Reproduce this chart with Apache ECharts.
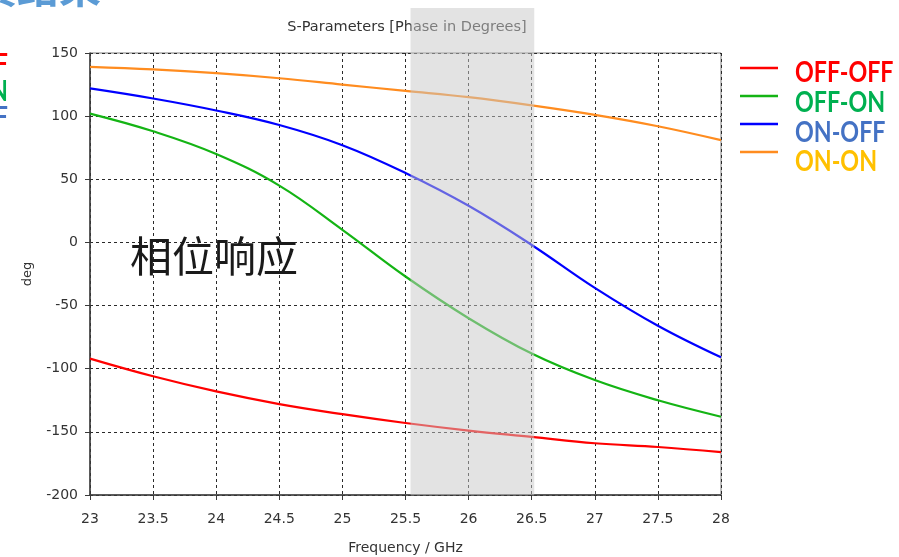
<!DOCTYPE html>
<html>
<head>
<meta charset="utf-8">
<script src="https://cdn.jsdelivr.net/npm/echarts@6/dist/echarts.min.js"></script>
<style>
  html, body { margin: 0; padding: 0; background: #ffffff; }
  #chart { width: 899px; height: 557px; }
</style>
</head>
<body>
<div id="chart"></div>
<script>
// Frequency sweep (GHz) and phase of each switch state (degrees)
const freqs = [23, 23.5, 24, 24.5, 25, 25.5, 26, 26.5, 27, 27.5, 28];
const offOff = [-92, -106, -118, -128, -136, -143, -149, -154, -159, -162, -166];
const offOn  = [102, 88, 70, 45, 10, -27, -60, -88, -109, -125, -138];
const onOff  = [122, 114, 104.5, 93, 77, 55, 29, -2, -36, -66, -91];
const onOn   = [139, 137, 134, 130, 125, 120, 115, 108.5, 101, 92, 81];

const seriesNames = ['OFF-OFF', 'OFF-ON', 'ON-OFF', 'ON-ON'];
const seriesValues = [offOff, offOn, onOff, onOn];
const lineColors = ['#ff0000', '#14b414', '#0000ff', '#ff8c1f'];
const labelColors = ['#ff0000', '#00b050', '#4472c4', '#ffc000'];

// Highlighted frequency band (GHz)
const band = [25.54, 26.52];

const chart = echarts.init(document.getElementById('chart'), null, { renderer: 'canvas' });

const tickFont = { fontFamily: 'DejaVu Sans', fontSize: 14, color: '#333333' };
const legendFont = "'Lato', sans-serif";

function pairs(values) {
  return freqs.map((f, i) => [f, values[i]]);
}

chart.setOption({
  animation: false,
  backgroundColor: '#ffffff',
  title: {
    text: 'S-Parameters [Phase in Degrees]',
    left: 402,
    top: 15,
    textAlign: 'center',
    textStyle: { fontFamily: 'DejaVu Sans', fontSize: 14.5, fontWeight: 'normal', color: '#333333' }
  },
  grid: {
    left: 90, right: 178, top: 53, bottom: 62,
    outerBoundsMode: 'none',
    containLabel: false,
    show: true, borderColor: '#7a7a7a', borderWidth: 1, backgroundColor: 'transparent'
  },
  xAxis: {
    type: 'value',
    min: 23, max: 28, interval: 0.5,
    name: 'Frequency / GHz',
    nameLocation: 'middle',
    nameGap: 46,
    nameTextStyle: tickFont,
    axisLine: { show: true, onZero: false, lineStyle: { color: '#3a3a3a', width: 1.5 } },
    axisTick: { show: true, length: 5, lineStyle: { color: '#3a3a3a' } },
    axisLabel: Object.assign({ margin: 17 }, tickFont),
    splitLine: { show: true, lineStyle: { color: '#2a2a2a', type: [3, 3], width: 1 } }
  },
  yAxis: {
    type: 'value',
    min: -200, max: 150, interval: 50,
    name: 'deg',
    nameLocation: 'middle',
    nameRotate: 90,
    nameGap: 56,
    nameTextStyle: { fontFamily: 'DejaVu Sans', fontSize: 13, color: '#333333' },
    axisLine: { show: true, onZero: false, lineStyle: { color: '#3a3a3a', width: 1.5 } },
    axisTick: { show: true, length: 5, lineStyle: { color: '#3a3a3a' } },
    axisLabel: Object.assign({ margin: 12 }, tickFont),
    splitLine: { show: true, lineStyle: { color: '#2a2a2a', type: [3, 3], width: 1 } }
  },
  series: seriesNames.map((name, i) => ({
    name: name,
    type: 'line',
    data: pairs(seriesValues[i]),
    smooth: 0.4,
    showSymbol: false,
    lineStyle: { color: lineColors[i], width: 2.2 },
    itemStyle: { color: lineColors[i] },
    z: 3
  }))
});

// Translucent band over the selected range, plus the annotation texts
const x0 = chart.convertToPixel({ xAxisIndex: 0 }, band[0]);
const x1 = chart.convertToPixel({ xAxisIndex: 0 }, band[1]);
const yBottom = chart.convertToPixel({ yAxisIndex: 0 }, -200);

const graphics = [
  {
    type: 'rect',
    shape: { x: x0, y: 8, width: x1 - x0, height: yBottom - 8 },
    style: { fill: 'rgba(200,200,200,0.5)' },
    silent: true,
    z: 100
  },
  {
    type: 'text',
    left: 130, top: 235,
    style: { text: '相位响应', font: "normal 42px 'Noto Sans CJK SC'", fill: '#1a1a1a' },
    z: 50
  },
  {
    type: 'text',
    style: { x: 101, y: 8, text: '仿真结果', align: 'right', verticalAlign: 'bottom',
             font: "bold 42px 'Noto Sans CJK SC'", fill: '#5b9bd5' },
    z: 50
  }
];

// Legend: coloured line swatch and bold, slightly narrowed label for each state
seriesNames.forEach((name, i) => {
  const lineY = 68 + i * 28;
  const textY = 73 + i * 29.8;
  graphics.push({
    type: 'line',
    shape: { x1: 740, y1: lineY, x2: 778, y2: lineY },
    style: { stroke: lineColors[i], lineWidth: 2.5 },
    z: 50
  });
  graphics.push({
    type: 'text',
    x: 795, y: textY, scaleX: 0.83,
    style: { x: 0, y: 0, text: name, align: 'left', verticalAlign: 'middle',
             font: 'bold 28px ' + legendFont, fill: labelColors[i] },
    z: 50
  });
});

// Labels of the neighbouring slide panel, clipped at the left edge
['OFF-OFF', 'OFF-ON', 'ON-OFF'].forEach((name, i) => {
  graphics.push({
    type: 'text',
    x: 8, y: 65 + i * 26.5, scaleX: 0.83,
    style: { x: 0, y: 0, text: name, align: 'right', verticalAlign: 'middle',
             font: 'bold 28px ' + legendFont, fill: labelColors[i] },
    z: 50
  });
});

chart.setOption({ graphic: graphics });
</script>
</body>
</html>
